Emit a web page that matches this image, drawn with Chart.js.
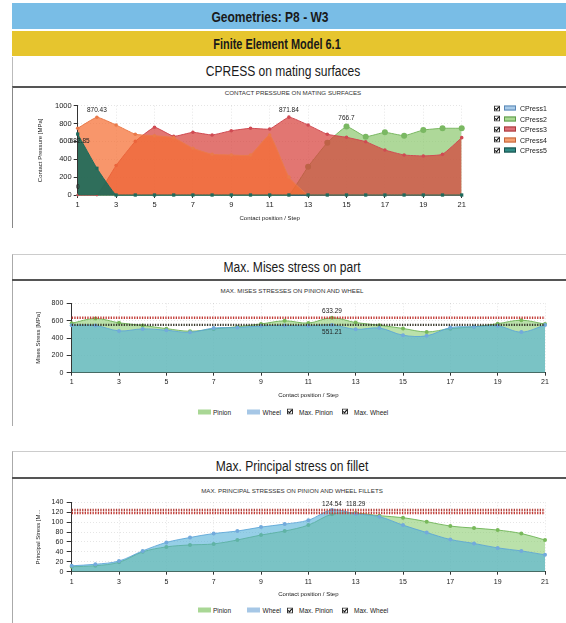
<!DOCTYPE html>
<html>
<head>
<meta charset="utf-8">
<script src="https://cdn.jsdelivr.net/npm/chart.js@4.4.1/dist/chart.umd.min.js"></script>
<style>
  html, body { margin: 0; padding: 0; background: #fff; }
  body { width: 566px; height: 623px; position: relative; overflow: hidden;
         font-family: "Liberation Sans", Arial, sans-serif; color: #1a1a1a; }
  .box { position: absolute; box-sizing: border-box; }
  .txt { position: absolute; white-space: nowrap; transform: translate(-50%, -50%); }
  .hb { font-size: 14px; font-weight: bold; transform: translate(-50%, -50%) scaleX(0.86); }
  .h  { font-size: 14px; transform: translate(-50%, -50%) scaleX(0.86); }
  .ct { font-size: 6.2px; color: #333; }
  canvas { position: absolute; }
  .legend { position: absolute; display: flex; align-items: center; font-size: 6.5px; color: #222;
            white-space: nowrap; transform: translateY(-50%); }
  .legend .sw { display: inline-block; width: 12.5px; height: 5px; }
  .legend svg { display: block; }
  .vlegend { position: absolute; font-size: 7px; color: #222; }
  .vlegend .row { position: absolute; display: flex; align-items: center; white-space: nowrap; transform: translateY(-50%); }
  .vlegend .sw { display: inline-block; width: 12px; height: 5px; box-sizing: border-box; border: 1px solid; margin: 0 4px 0 4px; }
</style>
</head>
<body>

<!-- banners -->
<div class="box" style="left:12px;top:3px;width:554px;height:26px;background:#79bde6"></div>
<div class="txt hb" style="left:270px;top:16.5px">Geometries: P8 - W3</div>
<div class="box" style="left:12px;top:31px;width:554px;height:25px;background:#e6c52e"></div>
<div class="txt hb" style="left:277px;top:43.5px;transform:translate(-50%,-50%) scaleX(0.78)">Finite Element Model 6.1</div>

<!-- panel 1 -->
<div class="box" style="left:12px;top:57px;width:554px;height:30px;border-left:1px solid #bbb"></div>
<div class="txt h" style="left:283px;top:71px">CPRESS on mating surfaces</div>
<div class="box" style="left:12px;top:86px;width:554px;height:142px;border-left:1px solid #888;border-top:2px solid #555"></div>
<div class="txt ct" style="left:293px;top:92px">CONTACT PRESSURE ON MATING SURFACES</div>
<canvas id="c1" width="553" height="137" style="left:13px;top:88px"></canvas>
<div class="vlegend" id="lg1"></div>

<!-- panel 2 -->
<div class="box" style="left:12px;top:254px;width:554px;height:172px;border-left:1px solid #aaa;border-top:1px solid #ccc"></div>
<div class="box" style="left:12px;top:279px;width:554px;height:2px;background:#555"></div>
<div class="txt h" style="left:292px;top:267px">Max. Mises stress on part</div>
<div class="txt ct" style="left:292px;top:289.5px">MAX. MISES STRESSES ON PINION AND WHEEL</div>
<canvas id="c2" width="553" height="121" style="left:13px;top:282px"></canvas>
<div class="legend" id="lg2" style="left:198px;top:411.5px"></div>

<!-- panel 3 -->
<div class="box" style="left:12px;top:451px;width:554px;height:172px;border-left:1px solid #aaa;border-top:1px solid #ccc"></div>
<div class="box" style="left:12px;top:477px;width:554px;height:2px;background:#555"></div>
<div class="txt h" style="left:292px;top:465.5px">Max. Principal stress on fillet</div>
<div class="txt ct" style="left:292px;top:490px">MAX. PRINCIPAL STRESSES ON PINION AND WHEEL FILLETS</div>
<canvas id="c3" width="553" height="123" style="left:13px;top:479px"></canvas>
<div class="legend" id="lg3" style="left:198px;top:610px"></div>

<script>
// ---- data -------------------------------------------------------------
const steps = ['1','2','3','4','5','6','7','8','9','10','11','12','13','14','15','16','17','18','19','20','21'];

// contact pressure on the mating surfaces [MPa]
const cpress1 = [0,0,0,0,0,0,0,0,0,0,0,0,0,0,0,0,0,0,0,0,0];
const cpress2 = [0,0,0,0,0,0,0,0,0,0,0,0,317,586,766.7,653,702,664,728,747,747];
const cpress3 = [0,0,330,600,758,657,702,672,720,747,739,871.84,784,680,646,597,504,448,437,455,642];
const cpress4 = [747,870.43,784,680,664,642,523,456,448,448,672,200,0,0,0,0,0,0,0,0,0];
const cpress5 = [682.85,299,0,0,0,0,0,0,0,0,0,0,0,0,0,0,0,0,0,0,0];

// max. Mises stress on pinion and wheel [MPa]
const misesPinion = [570,625,575,545,508,478,505,530,562,598,572,633.29,578,548,510,470,508,530,565,605,560];
const misesWheel  = [548,545,482,505,490,465,515,520,540,545,540,551.21,500,515,432,425,520,530,540,468,549];

// max. principal stress on pinion and wheel fillets [MPa]
const principalPinion = [10,12,19,40,50,54,56,64,74,82,94,116,118.29,113,109,101,92,88,84,77,64];
const principalWheel  = [12,15,21.6,42,59,69,77,82,90,96,104,124.54,117,111,94,79,65,57,48,42,34];

// ---- common helpers -----------------------------------------------------
Chart.defaults.font.family = '"Liberation Sans", Arial, sans-serif';
Chart.defaults.color = '#222';

const valueLabels = {
  id: 'valueLabels',
  afterDatasetsDraw(chart, args, opts) {
    const ctx = chart.ctx;
    ctx.save();
    ctx.font = '6.5px "Liberation Sans", Arial, sans-serif';
    ctx.fillStyle = '#222';
    ctx.textAlign = 'center';
    ctx.textBaseline = 'middle';
    (opts.items || []).forEach(it => {
      const el = chart.getDatasetMeta(it.dataset).data[it.index];
      const v = chart.data.datasets[it.dataset].data[it.index];
      ctx.fillText(String(v), el.x + (it.dx || 0), el.y + (it.dy || 0));
    });
    ctx.restore();
  }
};

function axisX(c) {
  return {
    type: 'category',
    offset: false,
    grid: { color: 'rgba(0,0,0,0.10)', tickColor: '#333', tickLength: 3 },
    border: { display: true, color: '#333', width: 1, dash: [1, 2] },
    ticks: { autoSkip: false, maxRotation: 0, padding: c.tickPad, font: { size: c.tickSize },
             callback: (v, i) => (i % 2 === 0 ? steps[i] : null) },
    title: { display: true, text: 'Contact position / Step', font: { size: 6 },
             padding: { top: 0, bottom: c.titlePad } },
    afterFit: s => { s.height = c.height; }
  };
}

function axisY(c) {
  return {
    min: c.min, max: c.max,
    grid: { color: 'rgba(0,0,0,0.10)', tickColor: '#333', tickLength: c.tickLen },
    border: { display: true, color: '#333', width: 1, dash: [1, 2] },
    ticks: { stepSize: c.step, autoSkip: false, padding: c.tickPad, font: { size: c.tickSize },
             callback: v => String(v) },
    title: { display: true, text: c.title, font: { size: 6 }, padding: { top: c.titlePad, bottom: 0 } },
    afterFit: s => { s.width = c.width; }
  };
}

function baseOptions(padding, scales, labels) {
  return {
    responsive: false,
    animation: false,
    events: [],
    layout: { padding },
    scales,
    plugins: { legend: { display: false }, title: { display: false }, tooltip: { enabled: false },
               valueLabels: { items: labels } }
  };
}

const checkSvg = '<svg width="6" height="6" viewBox="0 0 6 6"><rect x="0.5" y="0.5" width="5" height="5" fill="#fff" stroke="#333"/>' +
                 '<path d="M1.3 2.9 L2.5 4.3 L4.8 1.4" fill="none" stroke="#111" stroke-width="1.1"/></svg>';

// ---- contact pressure chart ---------------------------------------------
const cpSeries = [
  { label: 'CPress1', data: cpress1, fill: 'rgba(150,190,230,0.7)', line: '#6f9bc8', swatch: '#a9cbe9', swBorder: '#5b87b5', order: 5, r: 1.8, style: 'circle' },
  { label: 'CPress2', data: cpress2, fill: 'rgba(140,200,110,0.7)', line: '#7ab862', swatch: '#a9d993', swBorder: '#5f9a4a', order: 4, r: 3,   style: 'circle' },
  { label: 'CPress3', data: cpress3, fill: 'rgba(215,65,60,0.72)',  line: '#cf4a52', swatch: '#dc6f78', swBorder: '#a83a3a', order: 3, r: 1.8, style: 'circle' },
  { label: 'CPress4', data: cpress4, fill: 'rgba(245,110,50,0.72)', line: '#ea7a4a', swatch: '#f4a070', swBorder: '#c4643c', order: 2, r: 1.8, style: 'circle' },
  { label: 'CPress5', data: cpress5, fill: 'rgba(25,105,90,0.9)',   line: '#1d6a5c', swatch: '#2f8c86', swBorder: '#1a4f4a', order: 1, r: 2.3, style: 'rect' }
];

new Chart(document.getElementById('c1'), {
  type: 'line',
  data: {
    labels: steps,
    datasets: cpSeries.map(s => ({
      label: s.label, data: s.data, fill: 'origin', backgroundColor: s.fill,
      borderColor: s.line, borderWidth: 1, tension: 0.12, order: s.order, clip: false,
      pointRadius: s.order === 1 ? s.r : (ctx => (ctx.raw === 0 ? 1.2 : s.r)),
      pointStyle: s.style, pointBackgroundColor: s.line, pointBorderWidth: 0
    }))
  },
  options: baseOptions({ top: 17.7, right: 104.3, left: 0, bottom: 0 }, {
    x: axisX({ tickPad: 2.8, tickSize: 7.5, titlePad: 3.4, height: 30 }),
    y: axisY({ min: 0, max: 1000, step: 200, tickLen: 4, tickPad: 2, tickSize: 7.5,
               title: 'Contact Pressure [MPa]', titlePad: 23.4, width: 64.7 })
  }, [
    { dataset: 3, index: 1, dy: -7 },
    { dataset: 2, index: 11, dy: -7 },
    { dataset: 1, index: 14, dy: -8 },
    { dataset: 4, index: 0, dx: 2, dy: 7 },
    { dataset: 0, index: 0, dy: -8 }
  ]),
  plugins: [valueLabels]
});

// legend for contact pressure
(function () {
  const lg = document.getElementById('lg1');
  const rowY = [108.3, 118.8, 129.2, 139.6, 150];
  cpSeries.forEach((s, i) => {
    const row = document.createElement('div');
    row.className = 'row';
    row.style.left = '494px';
    row.style.top = rowY[i] + 'px';
    row.innerHTML = checkSvg + '<span class="sw" style="background:' + s.swatch + ';border-color:' + s.swBorder + '"></span>' + s.label;
    lg.appendChild(row);
  });
})();

// ---- pinion / wheel charts ----------------------------------------------
function stressChart(id, pinion, wheel, cfg) {
  const maxPinion = Math.max(...pinion);
  const maxWheel = Math.max(...wheel);
  new Chart(document.getElementById(id), {
    type: 'line',
    data: {
      labels: steps,
      datasets: [
        { label: 'Max. Pinion', data: steps.map(() => maxPinion), fill: false, borderColor: '#c23b36',
          borderWidth: 2.4, borderDash: [1.3, 1.3], pointRadius: 0, order: 1, clip: false },
        { label: 'Max. Wheel', data: steps.map(() => maxWheel), fill: false, borderColor: cfg.wheelMaxColor,
          borderWidth: 2.4, borderDash: [1.3, 1.3], pointRadius: 0, order: 2, clip: false },
        { label: 'Wheel', data: wheel, fill: 'origin', backgroundColor: 'rgba(80,175,215,0.6)',
          borderColor: 'rgba(90,165,215,0.85)', borderWidth: 1, tension: 0.35, order: 3, clip: false,
          pointRadius: 2, pointBackgroundColor: 'rgb(115,170,220)', pointBorderWidth: 0 },
        { label: 'Pinion', data: pinion, fill: 'origin', backgroundColor: 'rgba(130,200,100,0.55)',
          borderColor: 'rgba(110,180,85,0.9)', borderWidth: 1, tension: 0.35, order: 4, clip: false,
          pointRadius: 2, pointBackgroundColor: 'rgb(120,185,90)', pointBorderWidth: 0 }
      ]
    },
    options: baseOptions({ top: cfg.top, right: 21, left: 0, bottom: 0 }, {
      x: axisX({ tickPad: cfg.xTickPad, tickSize: 7, titlePad: cfg.xTitlePad, height: cfg.xHeight }),
      y: axisY({ min: 0, max: cfg.max, step: cfg.step, tickLen: 5, tickPad: 3.4, tickSize: 7,
                 title: cfg.title, titlePad: 21.4, width: 58.7 })
    }, cfg.labels),
    plugins: [valueLabels]
  });

  const lg = document.getElementById(cfg.legend);
  lg.innerHTML =
    '<span class="sw" style="background:#a9d795"></span><span style="margin:0 16px 0 2.5px">Pinion</span>' +
    '<span class="sw" style="background:#a6c7e6"></span><span style="margin:0 6px 0 3px">Wheel</span>' +
    checkSvg + '<span style="margin:0 9px 0 6px">Max. Pinion</span>' +
    checkSvg + '<span style="margin:0 0 0 6px">Max. Wheel</span>';
}

stressChart('c2', misesPinion, misesWheel, {
  top: 21.3, max: 800, step: 200, title: 'Mises Stress [MPa]', xTickPad: 2.4, xTitlePad: 3.7, xHeight: 30.3,
  wheelMaxColor: '#3b3a2e', legend: 'lg2',
  labels: [ { dataset: 0, index: 11, dy: -7 }, { dataset: 1, index: 11, dy: 7 } ]
});

stressChart('c3', principalPinion, principalWheel, {
  top: 23.3, max: 140, step: 20, title: 'Principal Stress [M...', xTickPad: 2.8, xTitlePad: 4.4, xHeight: 30.3,
  wheelMaxColor: '#b2403a', legend: 'lg3',
  labels: [ { dataset: 1, index: 11, dy: -6 }, { dataset: 0, index: 12, dy: -9 } ]
});
</script>
</body>
</html>
